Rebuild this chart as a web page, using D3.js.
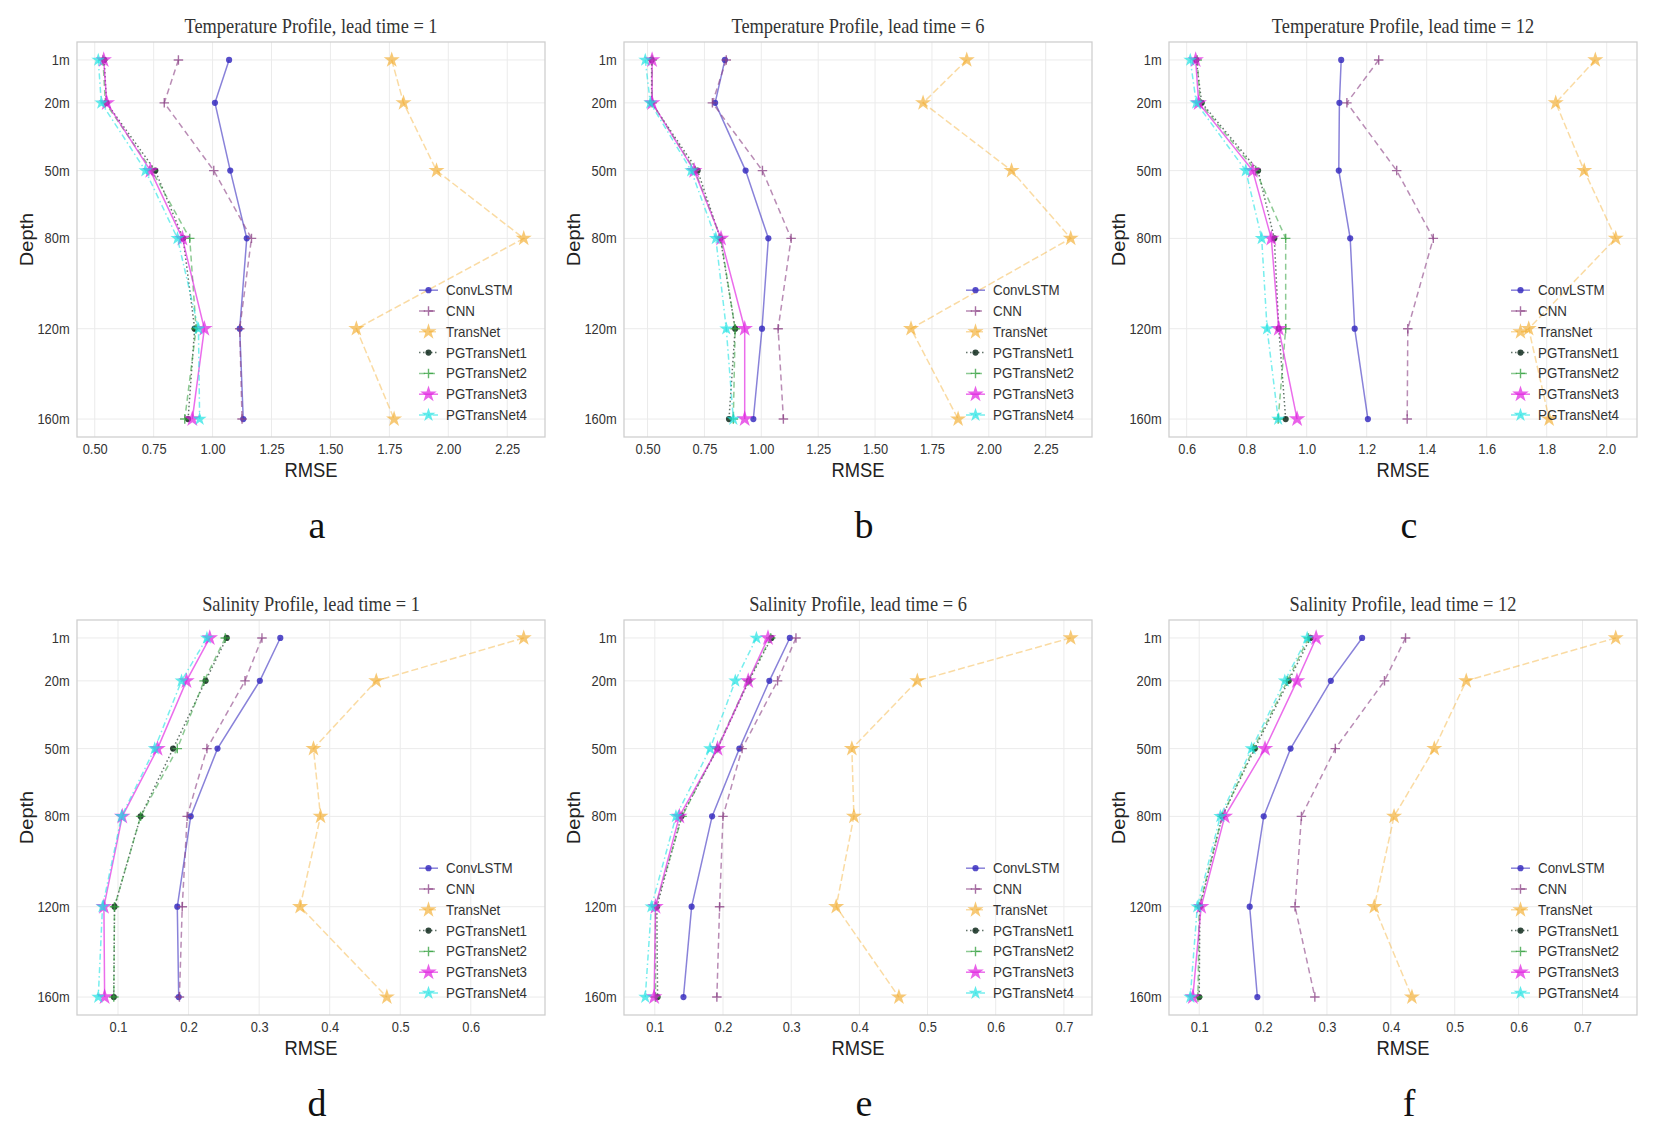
<!DOCTYPE html>
<html>
<head>
<meta charset="utf-8">
<script src="https://cdn.jsdelivr.net/npm/d3@7"></script>
<style>
  body { margin: 0; background: #fff; }
</style>
</head>
<body>
<div id="chart"></div>
<script>
// =============== Data ===============
var depths = [1, 20, 50, 80, 120, 160];
var depthLabels = ["1m", "20m", "50m", "80m", "120m", "160m"];
var models = ["ConvLSTM", "CNN", "TransNet", "PGTransNet1", "PGTransNet2", "PGTransNet3", "PGTransNet4"];

// RMSE per model (rows follow `models`), columns follow `depths`
var tempLead1 = [
  [1.07, 1.01, 1.075, 1.145, 1.115, 1.13],
  [0.855, 0.795, 1.005, 1.165, 1.115, 1.125],
  [1.76, 1.81, 1.95, 2.32, 1.61, 1.77],
  [0.54, 0.55, 0.757, 0.875, 0.924, 0.896],
  [0.535, 0.545, 0.743, 0.903, 0.93, 0.882],
  [0.538, 0.551, 0.736, 0.872, 0.965, 0.914],
  [0.515, 0.528, 0.715, 0.851, 0.94, 0.945]
];
var tempLead6 = [
  [0.84, 0.797, 0.931, 1.031, 1.003, 0.965],
  [0.846, 0.785, 1.005, 1.131, 1.074, 1.097],
  [1.903, 1.711, 2.1, 2.36, 1.658, 1.865],
  [0.518, 0.518, 0.72, 0.82, 0.885, 0.858],
  [0.52, 0.52, 0.708, 0.822, 0.885, 0.877],
  [0.52, 0.52, 0.705, 0.823, 0.927, 0.927],
  [0.49, 0.512, 0.692, 0.8, 0.846, 0.877]
];
var tempLead12 = [
  [1.115, 1.109, 1.107, 1.145, 1.16, 1.204],
  [1.24, 1.134, 1.3, 1.422, 1.337, 1.335],
  [1.962, 1.83, 1.925, 2.03, 1.74, 1.808],
  [0.632, 0.65, 0.838, 0.892, 0.907, 0.93],
  [0.635, 0.645, 0.83, 0.93, 0.93, 0.905],
  [0.63, 0.64, 0.82, 0.882, 0.907, 0.968],
  [0.612, 0.632, 0.797, 0.85, 0.868, 0.905]
];
var salLead1 = [
  [0.33, 0.301, 0.241, 0.203, 0.184, 0.186],
  [0.304, 0.28, 0.226, 0.198, 0.191, 0.187],
  [0.675, 0.466, 0.377, 0.387, 0.358, 0.481],
  [0.254, 0.224, 0.178, 0.132, 0.095, 0.094],
  [0.252, 0.222, 0.184, 0.132, 0.095, 0.094],
  [0.23, 0.197, 0.156, 0.106, 0.08, 0.081],
  [0.226, 0.19, 0.152, 0.105, 0.078, 0.072]
];
var salLead6 = [
  [0.298, 0.268, 0.224, 0.184, 0.154, 0.142],
  [0.307, 0.28, 0.228, 0.2, 0.195, 0.191],
  [0.71, 0.485, 0.389, 0.392, 0.366, 0.458],
  [0.271, 0.238, 0.192, 0.139, 0.103, 0.104],
  [0.27, 0.237, 0.191, 0.14, 0.101, 0.101],
  [0.266, 0.237, 0.192, 0.136, 0.101, 0.099],
  [0.249, 0.218, 0.181, 0.131, 0.095, 0.086]
];
var salLead12 = [
  [0.355, 0.306, 0.243, 0.201, 0.179, 0.191],
  [0.423, 0.39, 0.313, 0.26, 0.25, 0.281],
  [0.752, 0.518, 0.468, 0.405, 0.374, 0.433],
  [0.274, 0.24, 0.187, 0.136, 0.101, 0.1],
  [0.271, 0.238, 0.185, 0.136, 0.1, 0.098],
  [0.283, 0.253, 0.203, 0.14, 0.103, 0.09],
  [0.269, 0.234, 0.182, 0.133, 0.097, 0.086]
];

var panelTitles = [
  "Temperature Profile, lead time = 1",
  "Temperature Profile, lead time = 6",
  "Temperature Profile, lead time = 12",
  "Salinity Profile, lead time = 1",
  "Salinity Profile, lead time = 6",
  "Salinity Profile, lead time = 12"
];
var panelLetters = ["a", "b", "c", "d", "e", "f"];

var tempTicks = [0.5, 0.75, 1.0, 1.25, 1.5, 1.75, 2.0, 2.25];
var temp12Ticks = [0.6, 0.8, 1.0, 1.2, 1.4, 1.6, 1.8, 2.0];
var sal1Ticks = [0.1, 0.2, 0.3, 0.4, 0.5, 0.6];
var salTicks = [0.1, 0.2, 0.3, 0.4, 0.5, 0.6, 0.7];

// =============== Styles ===============
var seriesColors = ["#3a2fc0", "#8a3f84", "#f2a51a", "#0f2a1c", "#2f9e3a", "#e01ee0", "#1ee3e3"];
var seriesDash = ["", "6,4", "7,3", "1.5,2.5", "6,4", "", "6,3,1.5,3"];
var seriesOpacity = [0.6, 0.6, 0.4, 0.65, 0.55, 0.65, 0.6];
var seriesMarker = ["dot", "plus", "star", "dot", "plus", "star", "star"];
var markerSize = [30, 90, 80, 30, 90, 85, 60];

var svgWidth = 1655, svgHeight = 1126;
var panelLeft = [77, 624, 1169];
var panelTop = [42, 620];
var W = 468, H = 395;
var squish = 0.92;   // the source figure is slightly narrow horizontally
var sans = "'Liberation Sans', Arial, sans-serif";
var serif = "'Liberation Serif', 'Times New Roman', serif";

var svg = d3.select("#chart").append("svg")
  .attr("width", svgWidth)
  .attr("height", svgHeight);

svg.append("rect")
  .attr("width", svgWidth)
  .attr("height", svgHeight)
  .attr("fill", "#fff");

var panels = [
  { values: tempLead1, ticks: tempTicks, fmt: ".2f" },
  { values: tempLead6, ticks: tempTicks, fmt: ".2f" },
  { values: tempLead12, ticks: temp12Ticks, fmt: ".1f" },
  { values: salLead1, ticks: sal1Ticks, fmt: ".1f" },
  { values: salLead6, ticks: salTicks, fmt: ".1f" },
  { values: salLead12, ticks: salTicks, fmt: ".1f" }
];

// plain "+" marker
var plusSymbol = {
  draw: function(ctx, size) {
    var r = Math.sqrt(size) / 2;
    ctx.moveTo(-r, 0); ctx.lineTo(r, 0);
    ctx.moveTo(0, -r); ctx.lineTo(0, r);
  }
};

function markerPath(kind, size) {
  var type = kind === "star" ? d3.symbolStar : (kind === "plus" ? plusSymbol : d3.symbolCircle);
  return d3.symbol().type(type).size(size)();
}

function drawMarker(g, i, cx, cy) {
  var m = g.append("path")
    .attr("d", markerPath(seriesMarker[i], markerSize[i]))
    .attr("transform", `translate(${cx},${cy})`);
  if (seriesMarker[i] === "plus") {
    m.attr("fill", "none")
      .attr("stroke", seriesColors[i])
      .attr("stroke-width", 1.4)
      .attr("stroke-opacity", 0.75);
  } else {
    m.attr("fill", seriesColors[i])
      .attr("fill-opacity", i === 2 ? 0.6 : (seriesMarker[i] === "star" ? 0.7 : 0.85));
  }
}

function drawPanel(p, idx) {
  var col = idx % 3, row = Math.floor(idx / 3);
  var g = svg.append("g")
    .attr("transform", `translate(${panelLeft[col]}, ${panelTop[row]})`);

  // scales with matplotlib-like 5% margins
  var ext = d3.extent(d3.merge(p.values));
  var xPad = (ext[1] - ext[0]) * 0.05;
  var x = d3.scaleLinear().domain([ext[0] - xPad, ext[1] + xPad]).range([0, W]);
  var yPad = (d3.max(depths) - d3.min(depths)) * 0.05;
  var y = d3.scaleLinear().domain([d3.min(depths) - yPad, d3.max(depths) + yPad]).range([0, H]);

  // grid
  g.selectAll(".vgrid").data(p.ticks).enter().append("line")
    .attr("x1", d => x(d)).attr("x2", d => x(d))
    .attr("y1", 0).attr("y2", H)
    .attr("stroke", "#ebebeb").attr("stroke-width", 1);
  g.selectAll(".hgrid").data(depths).enter().append("line")
    .attr("x1", 0).attr("x2", W)
    .attr("y1", d => y(d)).attr("y2", d => y(d))
    .attr("stroke", "#ebebeb").attr("stroke-width", 1);

  // axes
  var xAxis = g.append("g")
    .attr("transform", `translate(0, ${H})`)
    .call(d3.axisBottom(x).tickValues(p.ticks).tickFormat(d3.format(p.fmt)).tickSize(0).tickPadding(7));
  var yAxis = g.append("g")
    .call(d3.axisLeft(y).tickValues(depths).tickFormat((d, i) => depthLabels[i]).tickSize(0).tickPadding(8));
  [xAxis, yAxis].forEach(function(ax) {
    ax.select(".domain").remove();
    ax.selectAll("text")
      .attr("transform", `scale(${squish},1)`)
      .attr("font-family", sans)
      .attr("font-size", "14px")
      .attr("fill", "#333");
  });

  // frame
  g.append("rect")
    .attr("width", W).attr("height", H)
    .attr("fill", "none")
    .attr("stroke", "#cfcfcf").attr("stroke-width", 1.3);

  // series
  var line = d3.line()
    .x(d => x(d[0]))
    .y(d => y(d[1]));

  p.values.forEach(function(vals, i) {
    var pts = d3.zip(vals, depths);
    g.append("path")
      .datum(pts)
      .attr("d", line)
      .attr("fill", "none")
      .attr("stroke", seriesColors[i])
      .attr("stroke-width", 1.5)
      .attr("stroke-opacity", seriesOpacity[i])
      .attr("stroke-dasharray", seriesDash[i] || null);
    pts.forEach(function(d) {
      drawMarker(g, i, x(d[0]), y(d[1]));
    });
  });

  // legend (lower right, no frame)
  var legX = W - 99, legBottom = H - 22, legStep = 20.8;
  models.forEach(function(name, i) {
    var ly = legBottom - (models.length - 1 - i) * legStep;
    g.append("line")
      .attr("x1", legX - 27).attr("x2", legX - 8)
      .attr("y1", ly).attr("y2", ly)
      .attr("stroke", seriesColors[i])
      .attr("stroke-width", 1.5)
      .attr("stroke-opacity", seriesOpacity[i])
      .attr("stroke-dasharray", seriesDash[i] || null);
    drawMarker(g, i, legX - 17.5, ly);
    g.append("text")
      .attr("transform", `translate(${legX}, ${ly + 5}) scale(${squish},1)`)
      .attr("font-family", sans)
      .attr("font-size", "14.5px")
      .attr("fill", "#333")
      .text(name);
  });

  // title, axis labels, panel letter
  g.append("text")
    .attr("transform", `translate(${W / 2}, -9) scale(${squish},1)`)
    .attr("text-anchor", "middle")
    .attr("font-family", serif)
    .attr("font-size", "20px")
    .attr("fill", "#333")
    .text(panelTitles[idx]);

  g.append("text")
    .attr("transform", `translate(${W / 2}, ${H + 40}) scale(${squish},1)`)
    .attr("text-anchor", "middle")
    .attr("font-family", sans)
    .attr("font-size", "20px")
    .attr("fill", "#222")
    .text("RMSE");

  g.append("text")
    .attr("transform", `translate(-44, ${H / 2}) scale(${squish},1) rotate(-90)`)
    .attr("text-anchor", "middle")
    .attr("font-family", sans)
    .attr("font-size", "20px")
    .attr("fill", "#222")
    .text("Depth");

  g.append("text")
    .attr("transform", `translate(${W / 2 + 6}, ${H + 101})`)
    .attr("text-anchor", "middle")
    .attr("font-family", serif)
    .attr("font-size", "38px")
    .attr("fill", "#111")
    .text(panelLetters[idx]);
}

panels.forEach(drawPanel);
</script>
</body>
</html>
